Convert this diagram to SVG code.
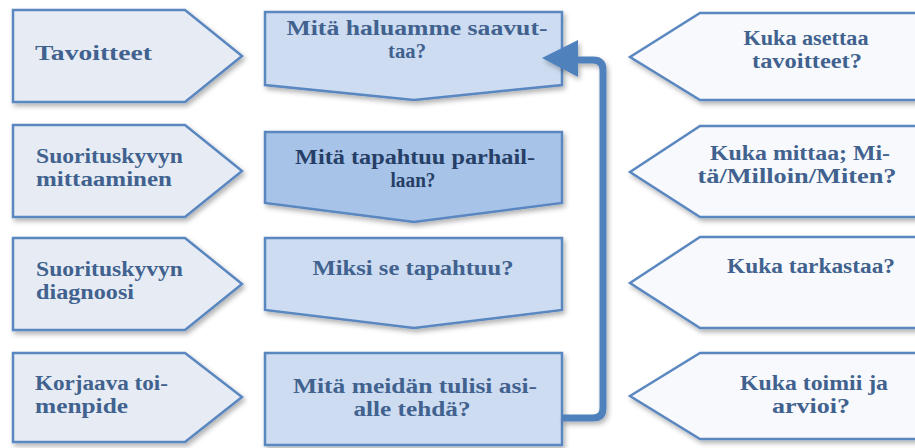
<svg xmlns="http://www.w3.org/2000/svg" width="915" height="448" viewBox="0 0 915 448">
<defs>
<filter id="sh" x="-10%" y="-10%" width="125%" height="135%">
<feDropShadow dx="2" dy="3" stdDeviation="2.5" flood-color="#000" flood-opacity="0.3"/>
</filter>
<style>
.l{fill:#e7ecf4;stroke:#5a87c0;stroke-width:2.5;filter:url(#sh)}
.m{fill:#cddcf1;stroke:#5a87c0;stroke-width:2.5;filter:url(#sh)}
.md{fill:#a8c3e8;stroke:#5a87c0;stroke-width:2.5;filter:url(#sh)}
.r{fill:#f8f9fc;stroke:#5a87c0;stroke-width:2.5;filter:url(#sh)}
.t{fill:#41628f}
.c{text-anchor:middle}
.dk{fill:#263f66}
.conn{fill:none;stroke:#4f81bd;stroke-width:7;stroke-linejoin:round}
</style>
</defs>
<rect width="915" height="448" fill="#ffffff"/>
<g id="left1"><polygon class="l" points="13,10 185,10 242,56 185,102 13,102"/>
<text class="t" font-family="Liberation Serif" font-size="20" font-weight="bold" x="35" y="60" textLength="117" lengthAdjust="spacingAndGlyphs">Tavoitteet</text></g>
<g id="left2"><polygon class="l" points="13,125 185,125 242,171 185,217 13,217"/>
<text class="t" font-family="Liberation Serif" font-size="20" font-weight="bold" x="36" y="163" textLength="147" lengthAdjust="spacingAndGlyphs">Suorituskyvyn</text>
<text class="t" font-family="Liberation Serif" font-size="20" font-weight="bold" x="36" y="186" textLength="136" lengthAdjust="spacingAndGlyphs">mittaaminen</text></g>
<g id="left3"><polygon class="l" points="13,238 185,238 242,284 185,330 13,330"/>
<text class="t" font-family="Liberation Serif" font-size="20" font-weight="bold" x="36" y="276" textLength="147" lengthAdjust="spacingAndGlyphs">Suorituskyvyn</text>
<text class="t" font-family="Liberation Serif" font-size="20" font-weight="bold" x="36" y="299" textLength="98" lengthAdjust="spacingAndGlyphs">diagnoosi</text></g>
<g id="left4"><polygon class="l" points="13,353 185,353 242,397 185,442 13,442"/>
<text class="t" font-family="Liberation Serif" font-size="20" font-weight="bold" x="35" y="390" textLength="133" lengthAdjust="spacingAndGlyphs">Korjaava toi-</text>
<text class="t" font-family="Liberation Serif" font-size="20" font-weight="bold" x="35" y="413" textLength="93" lengthAdjust="spacingAndGlyphs">menpide</text></g>

<g id="mid1"><polygon class="m" points="265,12 562,12 562,85 414,100 265,85"/>
<text class="t c" font-family="Liberation Serif" font-size="20" font-weight="bold" x="417" y="35" textLength="261" lengthAdjust="spacingAndGlyphs">Mitä haluamme saavut-</text>
<text class="t c" font-family="Liberation Serif" font-size="20" font-weight="bold" x="407" y="58" textLength="38" lengthAdjust="spacingAndGlyphs">taa?</text></g>
<g id="mid2"><polygon class="md" points="265,132 562,132 562,203 414,222 265,203"/>
<text class="t c dk" font-family="Liberation Serif" font-size="20" font-weight="bold" x="415" y="164" textLength="240" lengthAdjust="spacingAndGlyphs">Mitä tapahtuu parhail-</text>
<text class="t c dk" font-family="Liberation Serif" font-size="20" font-weight="bold" x="413" y="187" textLength="45" lengthAdjust="spacingAndGlyphs">laan?</text></g>
<g id="mid3"><polygon class="m" points="265,238 562,238 562,310 414,328 265,310"/>
<text class="t c" font-family="Liberation Serif" font-size="20" font-weight="bold" x="413" y="275" textLength="201" lengthAdjust="spacingAndGlyphs">Miksi se tapahtuu?</text></g>
<g id="mid4"><rect class="m" x="265" y="353" width="297" height="92"/>
<text class="t c" font-family="Liberation Serif" font-size="20" font-weight="bold" x="415" y="393" textLength="244" lengthAdjust="spacingAndGlyphs">Mitä meidän tulisi asi-</text>
<text class="t c" font-family="Liberation Serif" font-size="20" font-weight="bold" x="412" y="416" textLength="117" lengthAdjust="spacingAndGlyphs">alle tehdä?</text></g>

<g id="right1"><polygon class="r" points="630,57 700,13 925,13 925,100 700,100"/>
<text class="t c" font-family="Liberation Serif" font-size="20" font-weight="bold" x="806" y="45" textLength="125" lengthAdjust="spacingAndGlyphs">Kuka asettaa</text>
<text class="t c" font-family="Liberation Serif" font-size="20" font-weight="bold" x="807" y="68" textLength="110" lengthAdjust="spacingAndGlyphs">tavoitteet?</text></g>
<g id="right2"><polygon class="r" points="630,172 700,126 925,126 925,217 700,217"/>
<text class="t c" font-family="Liberation Serif" font-size="20" font-weight="bold" x="800" y="160" textLength="180" lengthAdjust="spacingAndGlyphs">Kuka mittaa; Mi-</text>
<text class="t c" font-family="Liberation Serif" font-size="20" font-weight="bold" x="797" y="183" textLength="199" lengthAdjust="spacingAndGlyphs">tä/Milloin/Miten?</text></g>
<g id="right3"><polygon class="r" points="630,283 700,237 925,237 925,328 700,328"/>
<text class="t c" font-family="Liberation Serif" font-size="20" font-weight="bold" x="811" y="273" textLength="168" lengthAdjust="spacingAndGlyphs">Kuka tarkastaa?</text></g>
<g id="right4"><polygon class="r" points="630,396 700,353 925,353 925,439 700,439"/>
<text class="t c" font-family="Liberation Serif" font-size="20" font-weight="bold" x="814" y="390" textLength="148" lengthAdjust="spacingAndGlyphs">Kuka toimii ja</text>
<text class="t c" font-family="Liberation Serif" font-size="20" font-weight="bold" x="811" y="413" textLength="78" lengthAdjust="spacingAndGlyphs">arvioi?</text></g>

<g id="connectors" filter="url(#sh)">
<path class="conn" d="M562,418 H593 Q603,418 603,408 V70 Q603,60 593,60 H576"/>
<polygon fill="#4f81bd" points="542,58 578,40 578,77"/>
</g>
</svg>
